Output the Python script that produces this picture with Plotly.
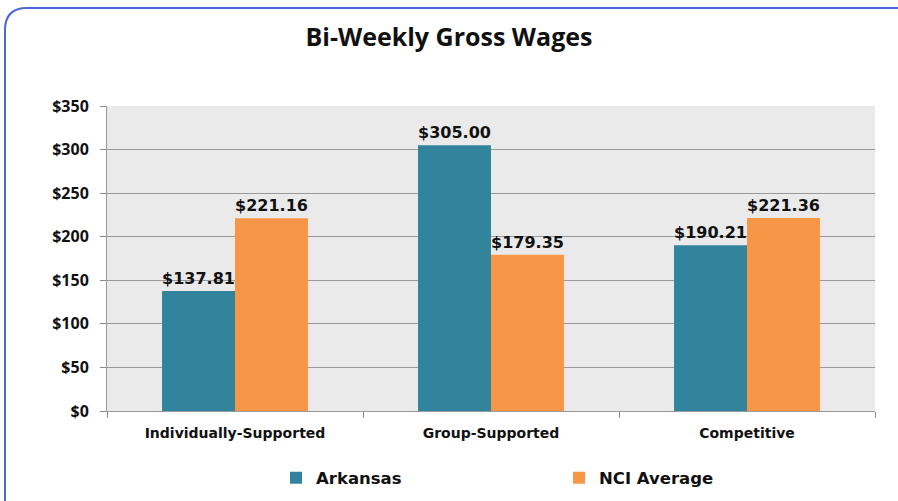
import plotly.graph_objects as go

categories = ["Individually-Supported", "Group-Supported", "Competitive"]
arkansas = [137.81, 305.00, 190.21]
nci_average = [221.16, 179.35, 221.36]
series_names = ["Arkansas", "NCI Average"]
colors = ["#31849B", "#F79646"]

W, H = 898, 501
L, R, T, B = 107, 23, 106, 90
fig = go.Figure()
for name, vals, col in zip(series_names, [arkansas, nci_average], colors):
    fig.add_trace(go.Bar(
        x=categories, y=vals, name=name, marker=dict(color=col, line=dict(width=0)),
        text=[f"${v:,.2f}" for v in vals], textposition="outside",
        textfont=dict(family="DejaVu Sans", size=16, color="#111", weight="bold"),
        cliponaxis=False,
    ))

fig.update_layout(
    width=W, height=H,
    paper_bgcolor="white", plot_bgcolor="#EAEAEA",
    barmode="group", bargap=0.43, bargroupgap=0,
    margin=dict(l=L, r=R, t=T, b=B, autoexpand=False),
    title=dict(text="<b>Bi-Weekly Gross Wages</b>", x=0.5, xanchor="center",
               y=1 - 37 / H, yanchor="middle",
               font=dict(family="Open Sans", size=25, color="#111")),
    showlegend=True,
    legend=dict(orientation="h", x=(276 - L) / (W - L - R), xanchor="left",
                y=-0.22, yanchor="middle",
                entrywidth=238, entrywidthmode="pixels",
                font=dict(family="DejaVu Sans", size=16.5, color="#111", weight="bold"),
                itemwidth=30, traceorder="normal"),
)
fig.update_xaxes(
    type="category", tickson="boundaries", ticks="outside", ticklen=6,
    tickcolor="#888", showline=True, linecolor="#999", linewidth=1,
    showgrid=False,
    tickfont=dict(family="DejaVu Sans", size=14, color="#111", weight="bold"),
    ticklabelstandoff=9,
)
fig.update_yaxes(
    range=[0, 350], dtick=50, tickprefix="$", ticks="outside", ticklen=6,
    tickcolor="#888", showline=True, linecolor="#999", linewidth=1,
    gridcolor="#9A9A9A", gridwidth=1, zeroline=False,
    tickfont=dict(family="Open Sans", size=16, color="#111", weight="bold"),
    ticklabelstandoff=8,
)

px = lambda x: (x - L) / (W - L - R)
py = lambda y: (H - B - y) / (H - T - B)
path = (f"M {px(5)},{py(520)} L {px(5)},{py(30)} Q {px(5)},{py(8)} {px(27)},{py(8)} "
        f"L {px(910)},{py(8)} L {px(910)},{py(520)} Z")
fig.add_shape(type="path", xref="x domain", yref="y domain", path=path,
              line=dict(color="#4A66D8", width=2), fillcolor="rgba(0,0,0,0)", layer="below")

fig.write_html("out.html", config={"displayModeBar": False},
               post_script="document.body.style.margin='0';document.body.style.overflow='hidden';")
